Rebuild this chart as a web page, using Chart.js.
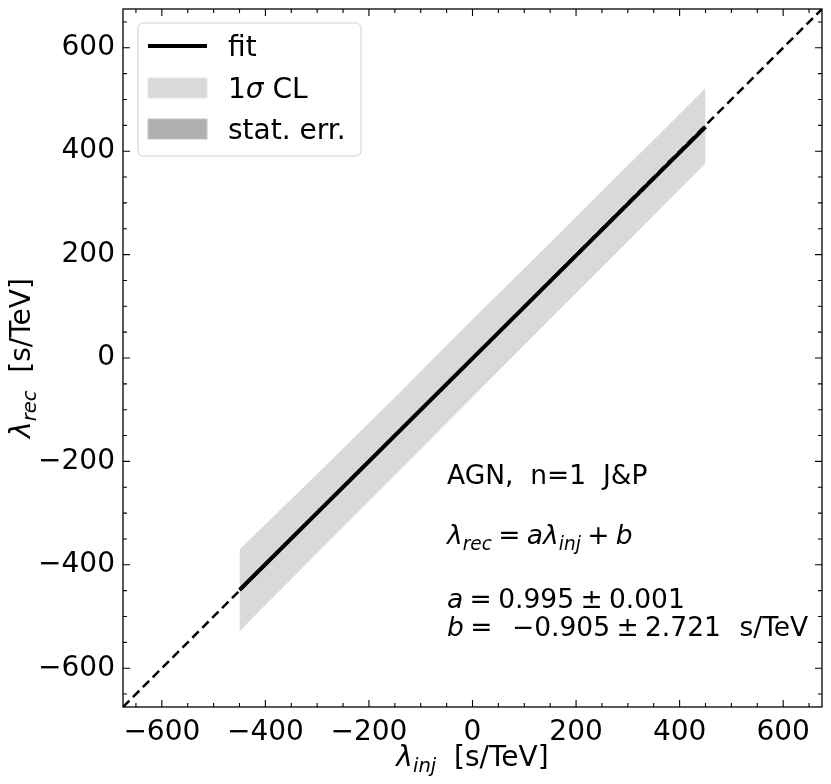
<!DOCTYPE html>
<html>
<head>
<meta charset="utf-8">
<script src="https://cdn.jsdelivr.net/npm/chart.js@4/dist/chart.umd.min.js"></script>
<style>
  html, body { margin: 0; padding: 0; background: #ffffff; }
  #wrap { width: 831px; height: 784px; }
</style>
</head>
<body>
<div id="wrap"><canvas id="c" width="831" height="784"></canvas></div>
<script>
// ---------------- data ----------------
const axisMin = -675;
const axisMax = 675;
const majorTicks = [-600, -400, -200, 0, 200, 400, 600];
const tickLabels = ['\u2212600', '\u2212400', '\u2212200', '0', '200', '400', '600'];
const minorStep = 50;

// identity (dashed) line
const diagX = [-675, 675];
const diagY = [-675, 675];

// fit line  (a = 0.995, b = -0.905)
const fitX = [-450, 450];
const fitY = [-448.7, 446.9];

// statistical error band
const statX = [-450, 450];
const statUpper = [-444, 451];
const statLower = [-452, 443];

// 1 sigma CL band
const bandX = [-450, -300, -150, 0, 150, 300, 450];
const bandUpper = [-371, -225, -77, 74, 222, 372, 521];
const bandLower = [-528, -376, -226, -75, 76, 226, 377];

const legendLabels = ['fit', '1\u03c3 CL', 'stat. err.'];
const annotation = {
  title: 'AGN,  n=1  J&P',
  aVal: '0.995', aErr: '0.001',
  bVal: '\u22120.905', bErr: '2.721', unit: 's/TeV'
};

// ---------------- helpers ----------------
const FONT = '"DejaVu Sans", "Liberation Sans", sans-serif';
const FS = 28;     // ticks, axis titles, legend
const FA = 26.5;   // annotation text
const MS = 0.24;   // mathtext spacing around binary operators (em)
function pts(xs, ys) { return xs.map((x, i) => ({ x: x, y: ys[i] })); }

function runFont(r, size) {
  const s = r.sub ? size * 0.7 : size;
  return (r.italic ? 'italic ' : '') + s + 'px ' + FONT;
}
function runW(ctx, r, size) {
  if (r.g !== undefined) return r.g * size;
  ctx.font = runFont(r, size);
  return ctx.measureText(r.t).width;
}
function drawRuns(ctx, runs, x, y, size, align) {
  let w = 0;
  runs.forEach(r => { w += runW(ctx, r, size); });
  let cx = align === 'center' ? x - w / 2 : x;
  ctx.textAlign = 'left';
  ctx.textBaseline = 'alphabetic';
  runs.forEach(r => {
    if (r.g === undefined) {
      ctx.font = runFont(r, size);
      const dy = r.sub ? size * 0.22 : 0;
      ctx.fillText(r.t, cx, y + dy);
    }
    cx += runW(ctx, r, size);
  });
}

// ---------------- plugins ----------------
const framePlugin = {
  id: 'frameTicks',
  afterDatasetsDraw(chart) {
    const { ctx, chartArea: a, scales: { x, y } } = chart;
    ctx.save();
    ctx.strokeStyle = '#000';
    ctx.lineWidth = 1.3;
    ctx.strokeRect(a.left, a.top, a.right - a.left, a.bottom - a.top);
    ctx.lineWidth = 1.1;
    ctx.beginPath();
    for (let v = Math.ceil(axisMin / minorStep) * minorStep; v <= axisMax; v += minorStep) {
      const major = majorTicks.includes(v);
      const len = major ? 7 : 4;
      const px = x.getPixelForValue(v);
      const py = y.getPixelForValue(v);
      ctx.moveTo(px, a.bottom); ctx.lineTo(px, a.bottom - len);
      ctx.moveTo(px, a.top); ctx.lineTo(px, a.top + len);
      ctx.moveTo(a.left, py); ctx.lineTo(a.left + len, py);
      ctx.moveTo(a.right, py); ctx.lineTo(a.right - len, py);
    }
    ctx.stroke();
    ctx.restore();
  },
  afterDraw(chart) {
    const { ctx, chartArea: a } = chart;
    ctx.save();
    ctx.fillStyle = '#000';
    // axis titles
    const cx = (a.left + a.right) / 2;
    drawRuns(ctx, [
      { t: '\u03bb', italic: true }, { t: 'inj', italic: true, sub: true },
      { t: '  [s/TeV]' }
    ], cx, 766, FS, 'center');
    ctx.save();
    ctx.translate(30, (a.top + a.bottom) / 2);
    ctx.rotate(-Math.PI / 2);
    drawRuns(ctx, [
      { t: '\u03bb', italic: true }, { t: 'rec', italic: true, sub: true },
      { t: '  [s/TeV]' }
    ], 0, 0, FS, 'center');
    ctx.restore();

    // annotation
    const ax = 447;
    drawRuns(ctx, [{ t: annotation.title }], ax, 484, FA, 'left');
    drawRuns(ctx, [
      { t: '\u03bb', italic: true }, { t: 'rec', italic: true, sub: true },
      { g: MS }, { t: '=' }, { g: MS },
      { t: 'a\u03bb', italic: true }, { t: 'inj', italic: true, sub: true },
      { g: MS }, { t: '+' }, { g: MS }, { t: 'b', italic: true }
    ], ax, 544, FA, 'left');
    drawRuns(ctx, [
      { t: 'a', italic: true }, { g: MS }, { t: '=' }, { g: MS },
      { t: annotation.aVal }, { g: MS }, { t: '\u00b1' }, { g: MS }, { t: annotation.aErr }
    ], ax, 608, FA, 'left');
    drawRuns(ctx, [
      { t: 'b', italic: true }, { g: MS }, { t: '=' }, { g: MS + 0.5 },
      { t: annotation.bVal }, { g: MS }, { t: '\u00b1' }, { g: MS }, { t: annotation.bErr },
      { g: 0.7 }, { t: annotation.unit }
    ], ax, 636, FA, 'left');

    // legend
    const L = { x: 138, y: 23, w: 223, h: 133 };
    ctx.beginPath();
    ctx.roundRect(L.x, L.y, L.w, L.h, 5);
    ctx.fillStyle = 'rgba(255,255,255,0.8)';
    ctx.fill();
    ctx.strokeStyle = '#d0d0d0';
    ctx.lineWidth = 1;
    ctx.stroke();

    ctx.strokeStyle = '#000';
    ctx.lineWidth = 3.8;
    ctx.beginPath();
    ctx.moveTo(148, 46); ctx.lineTo(207, 46);
    ctx.stroke();

    ctx.fillStyle = '#d9d9d9';
    ctx.fillRect(148, 78, 59, 20);
    ctx.strokeStyle = '#e4e4e4';
    ctx.lineWidth = 1;
    ctx.strokeRect(148, 78, 59, 20);

    ctx.fillStyle = '#b0b0b0';
    ctx.fillRect(148, 119, 59, 20);
    ctx.strokeStyle = '#c4c4c4';
    ctx.strokeRect(148, 119, 59, 20);

    ctx.fillStyle = '#000';
    drawRuns(ctx, [{ t: legendLabels[0] }], 228, 56, FS, 'left');
    drawRuns(ctx, [{ t: '1' }, { t: '\u03c3', italic: true }, { t: ' CL' }], 228, 98, FS, 'left');
    drawRuns(ctx, [{ t: legendLabels[2] }], 228, 139, FS, 'left');
    ctx.restore();
  }
};

// ---------------- chart ----------------
const setTicks = axis => { axis.ticks = majorTicks.map(v => ({ value: v })); };
const tickCb = v => { const i = majorTicks.indexOf(v); return i >= 0 ? tickLabels[i] : ''; };

new Chart(document.getElementById('c'), {
  type: 'line',
  data: {
    datasets: [
      { label: 'fit', data: pts(fitX, fitY), borderColor: '#000', borderWidth: 4,
        pointRadius: 0, fill: false, order: 0 },
      { label: 'identity', data: pts(diagX, diagY), borderColor: '#000', borderWidth: 2.5,
        borderDash: [9, 5], pointRadius: 0, fill: false, order: 1 },
      { label: 'stat lower', data: pts(statX, statLower), borderWidth: 0, borderColor: 'rgba(0,0,0,0)',
        pointRadius: 0, fill: false, order: 2 },
      { label: 'stat. err.', data: pts(statX, statUpper), borderWidth: 0, borderColor: 'rgba(0,0,0,0)',
        backgroundColor: '#a9a9a9', pointRadius: 0, fill: '-1', order: 2 },
      { label: 'band lower', data: pts(bandX, bandLower), borderWidth: 1, borderColor: '#e0e0e0',
        pointRadius: 0, fill: false, order: 3 },
      { label: '1σ CL', data: pts(bandX, bandUpper), borderWidth: 1, borderColor: '#e0e0e0',
        backgroundColor: '#d9d9d9', pointRadius: 0, fill: '-1', order: 3 }
    ]
  },
  options: {
    responsive: false,
    animation: false,
    layout: { padding: { left: 0, top: 9, right: 9, bottom: 0 } },
    plugins: { legend: { display: false }, tooltip: { enabled: false } },
    elements: { line: { tension: 0 } },
    scales: {
      x: {
        type: 'linear', min: axisMin, max: axisMax,
        afterBuildTicks: setTicks,
        afterFit: s => { s.height = 77; },
        grid: { display: false, drawTicks: false },
        border: { display: false },
        ticks: { callback: tickCb, color: '#000', padding: 9, maxRotation: 0,
                 font: { family: FONT, size: FS } }
      },
      y: {
        type: 'linear', min: axisMin, max: axisMax,
        afterBuildTicks: setTicks,
        afterFit: s => { s.width = 123; s.paddingTop = 0; s.paddingBottom = 0; },
        grid: { display: false, drawTicks: false },
        border: { display: false },
        ticks: { callback: tickCb, color: '#000', padding: 8,
                 font: { family: FONT, size: FS } }
      }
    }
  },
  plugins: [framePlugin]
});
</script>
</body>
</html>
